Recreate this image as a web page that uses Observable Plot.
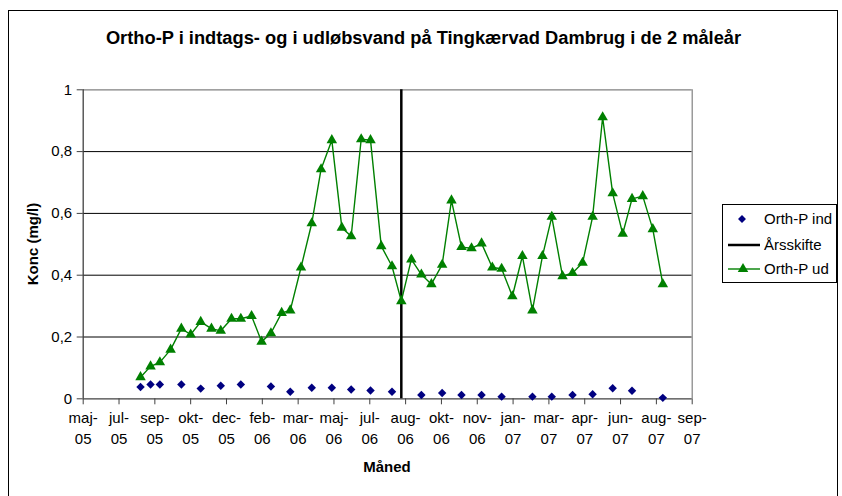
<!DOCTYPE html>
<html>
<head>
<meta charset="utf-8">
<script src="https://cdn.jsdelivr.net/npm/d3@7"></script>
<script src="https://cdn.jsdelivr.net/npm/@observablehq/plot@0.6"></script>
<style>
  body { margin: 0; background: #fff; font-family: "Liberation Sans", Arial, sans-serif; }
  #wrap { position: relative; width: 842px; height: 496px; overflow: hidden; background: #fff; }
  #frame { position: absolute; left: 8px; top: 10px; width: 830px; height: 500px; border: 1px solid #000; box-sizing: border-box; }
  #chart { position: absolute; left: 0; top: 0; }
  #title { position: absolute; left: 8px; width: 831px; top: 27px; text-align: center; font-weight: bold; font-size: 18.3px; line-height: 22px; color: #000; }
  #xlab { position: absolute; left: 0; top: 458px; width: 774px; text-align: center; font-weight: bold; font-size: 15px; line-height: 18px; }
  #ylab { position: absolute; left: 32px; top: 244px; transform: translate(-50%, -50%) rotate(-90deg); font-weight: bold; font-size: 15px; white-space: nowrap; }
  #legend { position: absolute; left: 722px; top: 204px; }
</style>
</head>
<body>
<div id="wrap">
  <div id="frame"></div>
  <div id="chart"></div>
  <div id="title">Ortho-P i indtags- og i udløbsvand på Tingkærvad Dambrug i de 2 måleår</div>
  <div id="xlab">Måned</div>
  <div id="ylab">Konc (mg/l)</div>
  <div id="legend"></div>
</div>
<script>
// ---- data ----
const udDates = ["2005-08-16","2005-08-30","2005-09-12","2005-09-27","2005-10-12","2005-10-25","2005-11-08","2005-11-23","2005-12-06","2005-12-21",
  "2006-01-03","2006-01-18","2006-02-01","2006-02-14","2006-03-01","2006-03-13","2006-03-28","2006-04-12","2006-04-25","2006-05-10",
  "2006-05-24","2006-06-06","2006-06-20","2006-07-03","2006-07-18","2006-08-02","2006-08-15","2006-08-29","2006-09-12","2006-09-26",
  "2006-10-11","2006-10-24","2006-11-07","2006-11-21","2006-12-05","2006-12-20","2007-01-02","2007-01-17","2007-01-31","2007-02-14",
  "2007-02-28","2007-03-13","2007-03-28","2007-04-11","2007-04-25","2007-05-09","2007-05-23","2007-06-06","2007-06-20","2007-07-03",
  "2007-07-18","2007-08-01","2007-08-15"];
const udValues = [0.070,0.105,0.118,0.159,0.227,0.208,0.249,0.227,0.220,0.259,
  0.259,0.268,0.185,0.212,0.278,0.286,0.425,0.568,0.743,0.837,
  0.554,0.526,0.840,0.837,0.494,0.429,0.316,0.451,0.402,0.371,
  0.434,0.642,0.491,0.487,0.503,0.425,0.421,0.332,0.462,0.286,
  0.462,0.589,0.397,0.407,0.440,0.589,0.911,0.665,0.534,0.647,
  0.656,0.549,0.371];
const indDates = ["2005-08-16","2005-08-30","2005-09-12","2005-10-12","2005-11-08","2005-12-06","2006-01-03","2006-02-14","2006-03-13","2006-04-12",
  "2006-05-10","2006-06-06","2006-07-03","2006-08-02","2006-09-12","2006-10-11","2006-11-07","2006-12-05","2007-01-02","2007-02-14",
  "2007-03-13","2007-04-11","2007-05-09","2007-06-06","2007-07-03","2007-08-15"];
const indValues = [0.038,0.046,0.046,0.046,0.033,0.042,0.046,0.040,0.023,0.036,
  0.036,0.030,0.027,0.023,0.012,0.019,0.012,0.012,0.007,0.007,
  0.007,0.012,0.015,0.034,0.026,0.003];
const aarsskifte = "2006-08-15";
const xTickDates = ["2005-05-28","2005-07-17","2005-09-05","2005-10-25","2005-12-14","2006-02-02","2006-03-24","2006-05-13","2006-07-02",
  "2006-08-21","2006-10-10","2006-11-29","2007-01-18","2007-03-09","2007-04-28","2007-06-17","2007-08-06","2007-09-25"];
const xTickLabels = ["maj-05","jul-05","sep-05","okt-05","dec-05","feb-06","mar-06","maj-06","jul-06",
  "aug-06","okt-06","nov-06","jan-07","mar-07","apr-07","jun-07","aug-07","sep-07"];
const yTicks = [0, 0.2, 0.4, 0.6, 0.8, 1];
const yTickLabels = ["0", "0,2", "0,4", "0,6", "0,8", "1"];

// ---- build ----
const ud = udDates.map((d, i) => ({date: new Date(d), value: udValues[i]}));
const ind = indDates.map((d, i) => ({date: new Date(d), value: indValues[i]}));
const ticks = xTickDates.map(d => new Date(d));
const tickLabelMap = new Map(ticks.map((t, i) => [t.getTime(), xTickLabels[i].replace("-", "-\n")]));
const yLabelMap = new Map(yTicks.map((t, i) => [t, yTickLabels[i]]));
const green = "#008000", navy = "#000080";

const chart = Plot.plot({
  width: 842,
  height: 496,
  marginLeft: 82.7,
  marginRight: 150.3,
  marginTop: 89.3,
  marginBottom: 97.7,
  style: {fontFamily: "'Liberation Sans', Arial, sans-serif", fontSize: "15px", background: "transparent", color: "#000"},
  x: {type: "utc", domain: [ticks[0], ticks[ticks.length - 1]]},
  y: {domain: [0, 1]},
  marks: [
    Plot.ruleY([0.2, 0.4, 0.6, 0.8], {stroke: "#000", strokeWidth: 1}),
    Plot.ruleY([1], {stroke: "#808080", strokeWidth: 1.2}),
    Plot.ruleX([ticks[ticks.length - 1]], {stroke: "#808080", strokeWidth: 1.2}),
    Plot.axisX({ticks: ticks, tickFormat: d => tickLabelMap.get(d.getTime()), tickSize: 6, tickPadding: 3,
      fontSize: 15, lineHeight: 1.4, label: null, stroke: "#404040"}),
    Plot.axisY({ticks: yTicks, tickFormat: d => yLabelMap.get(d), tickSize: 6, tickPadding: 5,
      fontSize: 15, label: null, stroke: "#404040"}),
    Plot.ruleX([ticks[0]], {stroke: "#404040", strokeWidth: 1.3}),
    Plot.ruleY([0], {stroke: "#404040", strokeWidth: 1.3}),
    Plot.ruleX([new Date(aarsskifte)], {stroke: "#000", strokeWidth: 2.5}),
    Plot.line(ud, {x: "date", y: "value", stroke: green, strokeWidth: 1.4}),
    Plot.dot(ud, {x: "date", y: "value", symbol: "triangle", r: 3.9, fill: green, stroke: "none"}),
    Plot.dot(ind, {x: "date", y: "value", symbol: "diamond2", r: 3.8, fill: navy, stroke: "none"})
  ]
});
document.getElementById("chart").appendChild(chart);

// ---- legend ----
const lg = d3.select("#legend").append("svg").attr("width", 116).attr("height", 80)
  .style("font-family", "'Liberation Sans', Arial, sans-serif").style("font-size", "15px");
lg.append("rect").attr("x", 0.5).attr("y", 0.5).attr("width", 114).attr("height", 78).attr("fill", "#fff").attr("stroke", "#000");
const rows = [
  {label: "Orth-P ind", y: 15, kind: "ind"},
  {label: "Årsskifte", y: 41, kind: "rule"},
  {label: "Orth-P ud", y: 65, kind: "ud"}
];
rows.forEach(r => {
  if (r.kind === "rule") {
    lg.append("line").attr("x1", 6).attr("x2", 38).attr("y1", r.y).attr("y2", r.y).attr("stroke", "#000").attr("stroke-width", 2.5);
  } else if (r.kind === "ud") {
    lg.append("line").attr("x1", 6).attr("x2", 38).attr("y1", r.y).attr("y2", r.y).attr("stroke", green).attr("stroke-width", 1.4);
    lg.append("path").attr("d", d3.symbol(d3.symbolTriangle, 48)()).attr("transform", `translate(21,${r.y})`).attr("fill", green);
  } else {
    lg.append("path").attr("d", d3.symbol(d3.symbolDiamond2, 40)()).attr("transform", `translate(20,${r.y})`).attr("fill", navy);
  }
  lg.append("text").attr("x", 42).attr("y", r.y).attr("dy", "0.35em").text(r.label);
});
</script>
</body>
</html>
